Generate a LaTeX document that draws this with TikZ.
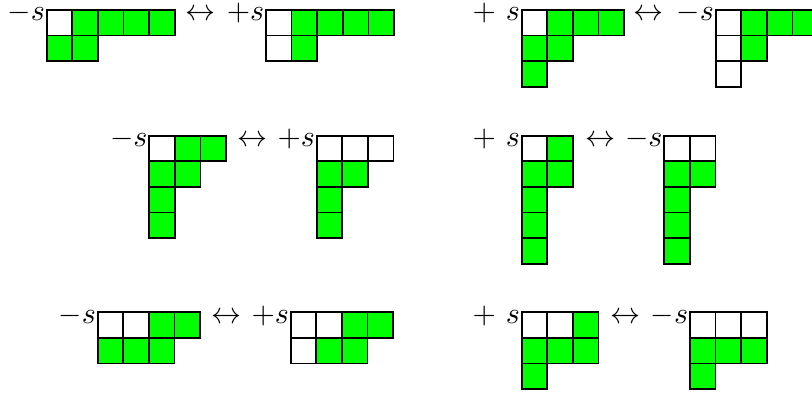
\documentclass[tikz,border=0pt]{standalone}
\definecolor{G}{RGB}{0,255,0}
\newcommand\ydiag[3]{%
  \foreach \ci/\rj/\cc in {#3}
    \draw[cellbox,fill=\cc] ({#1+\ci*25.6},{#2+\rj*25.6}) rectangle ++(25.6,25.6);%
}
\begin{document}
\begin{tikzpicture}[x=0.33333pt,y=-0.33333pt,
  cellbox/.style={draw=black,line width=0.55pt},
  lab/.style={anchor=base east,inner sep=0pt},
  arr/.style={anchor=base,inner sep=0pt}]
\useasboundingbox (0,0) rectangle (812,392);
\clip (0,0) rectangle (812,392);
% row 1
\ydiag{46.7}{10}{0/0/white,1/0/G,2/0/G,3/0/G,4/0/G,0/1/G,1/1/G}
\node[lab] (L1) at (45.5,20.7) {$-s$};
\node[arr] (A1) at (200.8,20.7) {$\leftrightarrow$};
\ydiag{266}{10}{0/0/white,1/0/G,2/0/G,3/0/G,4/0/G,0/1/white,1/1/G}
\node[lab] (L2) at (264.8,20.7) {$+s$};
\ydiag{521.7}{10}{0/0/white,1/0/G,2/0/G,3/0/G,0/1/G,1/1/G,0/2/G}
\node[lab] (L3) at (520.5,20.7) {$+\ s$};
\node[arr] (A2) at (648.5,20.7) {$\leftrightarrow$};
\ydiag{715.7}{10}{0/0/white,1/0/G,2/0/G,3/0/G,0/1/white,1/1/G,0/2/white}
\node[lab] (L4) at (714.5,20.7) {$-s$};
% row 2
\ydiag{149.3}{135.7}{0/0/white,1/0/G,2/0/G,0/1/G,1/1/G,0/2/G,0/3/G}
\node[lab] (L5) at (148.1,146.4) {$-s$};
\node[arr] (A3) at (252.5,146.4) {$\leftrightarrow$};
\ydiag{316.7}{135.7}{0/0/white,1/0/white,2/0/white,0/1/G,1/1/G,0/2/G,0/3/G}
\node[lab] (L6) at (315.5,146.4) {$+s$};
\ydiag{521.7}{135.7}{0/0/white,1/0/G,0/1/G,1/1/G,0/2/G,0/3/G,0/4/G}
\node[lab] (L7) at (520.5,146.4) {$+\ s$};
\node[arr] (A4) at (600,146.4) {$\leftrightarrow$};
\ydiag{664.3}{135.7}{0/0/white,1/0/white,0/1/G,1/1/G,0/2/G,0/3/G,0/4/G}
\node[lab] (L8) at (663.1,146.4) {$-s$};
% row 3
\ydiag{97.7}{312.3}{0/0/white,1/0/white,2/0/G,3/0/G,0/1/G,1/1/G,2/1/G}
\node[lab] (L9) at (96.5,323) {$-s$};
\node[arr] (A5) at (226.8,323) {$\leftrightarrow$};
\ydiag{290.7}{312.3}{0/0/white,1/0/white,2/0/G,3/0/G,0/1/white,1/1/G,2/1/G}
\node[lab] (L10) at (289.5,323) {$+s$};
\ydiag{521.7}{312.3}{0/0/white,1/0/white,2/0/G,0/1/G,1/1/G,2/1/G,0/2/G}
\node[lab] (L11) at (520.5,323) {$+\ s$};
\node[arr] (A6) at (625.8,323) {$\leftrightarrow$};
\ydiag{690}{312.3}{0/0/white,1/0/white,2/0/white,0/1/G,1/1/G,2/1/G,0/2/G}
\node[lab] (L12) at (688.8,323) {$-s$};
\end{tikzpicture}
\end{document}
